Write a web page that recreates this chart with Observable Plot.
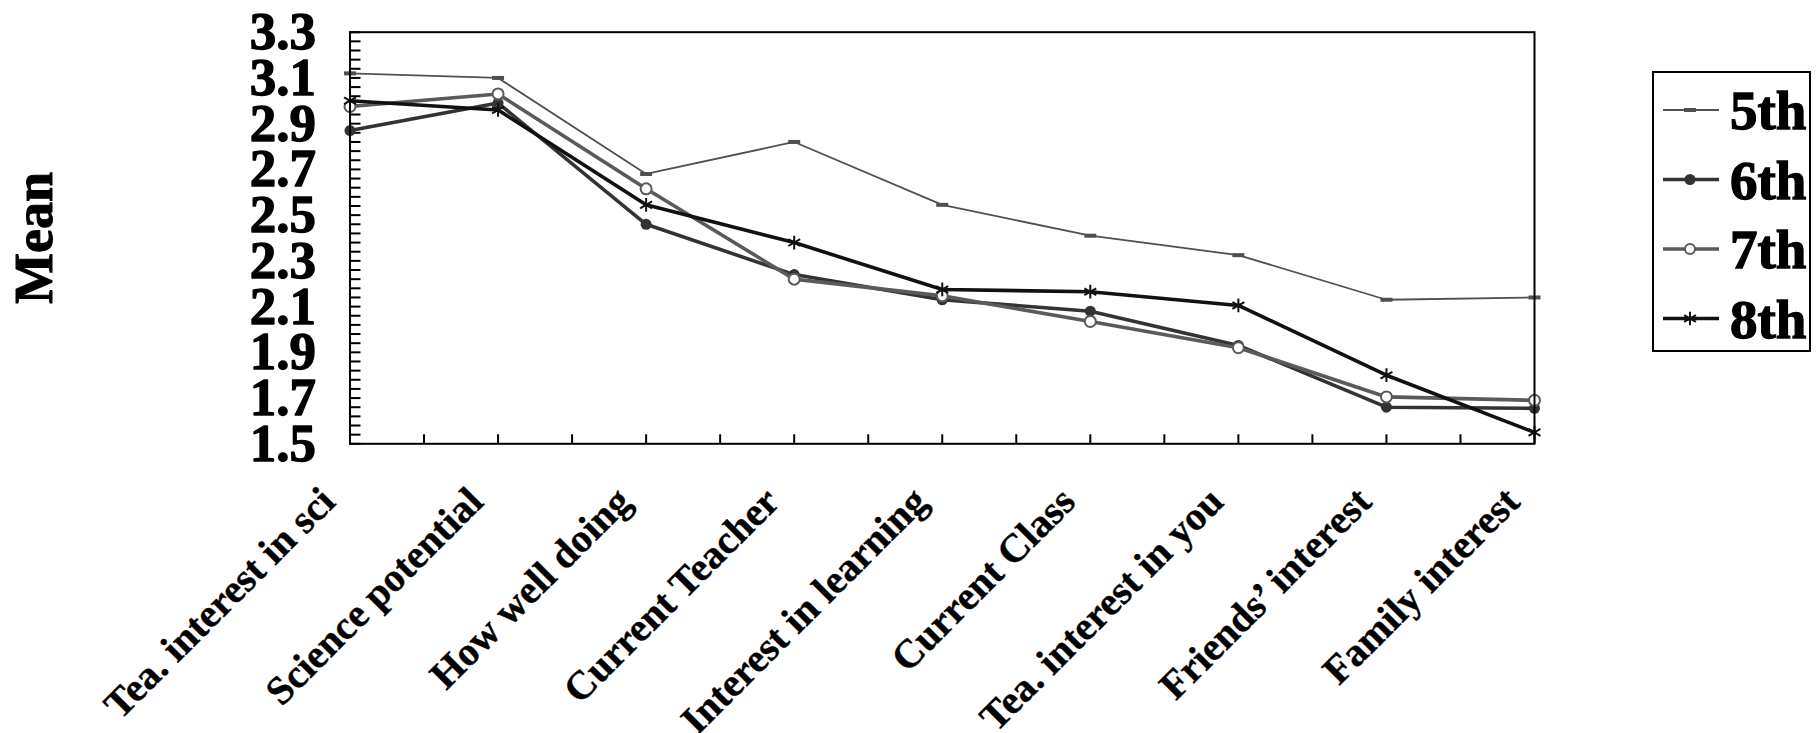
<!DOCTYPE html>
<html><head><meta charset="utf-8">
<script src="https://cdn.jsdelivr.net/npm/d3@7"></script>
<script src="https://cdn.jsdelivr.net/npm/@observablehq/plot@0.6"></script>
<style>
html,body{margin:0;padding:0;background:#fff;overflow:hidden}
#wrap{position:relative;width:1817px;height:733px}
#legend{position:absolute;left:1652px;top:71px}
</style></head><body><div id="wrap"></div>
<script>
// ---- data ----
const categories = ["Tea. interest in sci","Science potential","How well doing","Current Teacher","Interest in learning","Current Class","Tea. interest in you","Friends’ interest","Family interest"];
const series = ["5th","6th","7th","8th"];
const grade5 = [3.12, 3.10, 2.68, 2.82, 2.545, 2.41, 2.325, 2.13, 2.14];
const grade6 = [2.87, 2.99, 2.46, 2.24, 2.13, 2.08, 1.93, 1.66, 1.655];
const grade7 = [2.975, 3.03, 2.615, 2.22, 2.147, 2.035, 1.92, 1.705, 1.69];
const grade8 = [3.0, 2.96, 2.545, 2.38, 2.175, 2.165, 2.105, 1.80, 1.55];
const yTicks = [1.5, 1.7, 1.9, 2.1, 2.3, 2.5, 2.7, 2.9, 3.1, 3.3];
const yTickLabels = ["1.5","1.7","1.9","2.1","2.3","2.5","2.7","2.9","3.1","3.3"];
const yLabel = "Mean";

// ---- layout / style ----
const W = 1817, H = 733;
const fL = 349.5, fR = 1534, fT = 31.7, fB = 443.3;
const FONT = "'Liberation Serif','Times New Roman',serif";
const styles = {
  "5th": {stroke: "#505050", width: 1.8, marker: "dash"},
  "6th": {stroke: "#333333", width: 3.6, marker: "dot"},
  "7th": {stroke: "#5a5a5a", width: 3.6, marker: "ring"},
  "8th": {stroke: "#111111", width: 3.6, marker: "asterisk"}
};
const dashSymbol = {draw(ctx, size) { ctx.rect(-6, -2, 12, 4); }};

const values = [grade5, grade6, grade7, grade8];
const rows = series.flatMap((s, k) => values[k].map((v, i) => ({grade: s, idx: i, value: v})));
const yMinor = d3.range(0, 46).map(i => +(1.5 + i * 0.04).toFixed(2));
const xTickPos = d3.range(0, 17).map(i => i / 2);

const marks = [
  Plot.tickY(yMinor, {y: d => d, stroke: "#000", strokeWidth: 2, insetRight: (fR - fL) - 11}),
  Plot.tickX(xTickPos, {x: d => d, stroke: "#000", strokeWidth: 2, insetTop: (fB - fT) - 9}),
  Plot.text(yTicks, {y: d => d, text: (d, i) => yTickLabels[i], frameAnchor: "left", textAnchor: "end",
    lineAnchor: "middle", dx: -34, fontSize: 53, fontWeight: "bold", fill: "#000", stroke: "#000", strokeWidth: 1.3}),
  Plot.text(categories, {x: (d, i) => i, text: d => d, frameAnchor: "bottom", rotate: -45,
    textAnchor: "end", lineAnchor: "middle", dx: -22, dy: 51, fontSize: 40, fontWeight: "bold", fill: "#000",
    stroke: "#000", strokeWidth: 0.4}),
  Plot.text([yLabel], {text: d => d, frameAnchor: "left", textAnchor: "middle", lineAnchor: "middle",
    dx: -(fL - 34), rotate: -90, fontSize: 54, fontWeight: "bold", fill: "#000", stroke: "#000", strokeWidth: 1})
];
for (const s of series) {
  const st = styles[s];
  const data = rows.filter(r => r.grade === s);
  marks.push(Plot.line(data, {x: "idx", y: "value", stroke: st.stroke, strokeWidth: st.width}));
  if (st.marker === "dash") marks.push(Plot.dot(data, {x: "idx", y: "value", symbol: dashSymbol, r: 5, fill: st.stroke, stroke: "none"}));
  if (st.marker === "dot") marks.push(Plot.dot(data, {x: "idx", y: "value", r: 5.5, fill: st.stroke, stroke: "none"}));
  if (st.marker === "ring") marks.push(Plot.dot(data, {x: "idx", y: "value", r: 5.5, fill: "#fff", stroke: st.stroke, strokeWidth: 2}));
  if (st.marker === "asterisk") marks.push(Plot.dot(data, {x: "idx", y: "value", symbol: "asterisk", r: 6.5, stroke: st.stroke, strokeWidth: 2}));
}
marks.push(Plot.frame({stroke: "#000", strokeWidth: 2}));

const chart = Plot.plot({
  width: W, height: H,
  marginLeft: fL, marginRight: W - fR, marginTop: fT, marginBottom: H - fB,
  x: {type: "linear", domain: [0, categories.length - 1], axis: null},
  y: {domain: [1.5, 3.3], axis: null},
  style: {fontFamily: FONT, background: "#fff", color: "#000", overflow: "visible"},
  marks
});
document.getElementById("wrap").appendChild(chart);

// ---- legend ----
const lw = 159, lh = 281;
const leg = d3.create("svg").attr("id", "legend").attr("width", lw).attr("height", lh)
  .style("font-family", FONT);
leg.append("rect").attr("x", 1).attr("y", 1).attr("width", lw - 2).attr("height", lh - 2)
  .attr("fill", "#fff").attr("stroke", "#000").attr("stroke-width", 2);
series.forEach((s, k) => {
  const st = styles[s];
  const y = 39 + k * 69.5;
  const g = leg.append("g").attr("transform", `translate(0,${y})`);
  g.append("line").attr("x1", 11).attr("x2", 67).attr("y1", 0).attr("y2", 0)
    .attr("stroke", st.stroke).attr("stroke-width", st.width);
  if (st.marker === "dash") g.append("rect").attr("x", 32).attr("y", -2).attr("width", 12).attr("height", 4).attr("fill", st.stroke);
  if (st.marker === "dot") g.append("circle").attr("cx", 38).attr("r", 5.5).attr("fill", st.stroke);
  if (st.marker === "ring") g.append("circle").attr("cx", 38).attr("r", 5).attr("fill", "#fff").attr("stroke", st.stroke).attr("stroke-width", 2);
  if (st.marker === "asterisk") g.append("path").attr("transform", "translate(38,0)")
    .attr("d", d3.symbol(d3.symbolAsterisk, Math.PI * 6.5 * 6.5)()).attr("fill", "none").attr("stroke", st.stroke).attr("stroke-width", 2);
  g.append("text").attr("x", 78).attr("y", 19).attr("font-size", 55).attr("font-weight", "bold")
    .attr("fill", "#000").attr("stroke", "#000").attr("stroke-width", 1.3).text(s);
});
document.getElementById("wrap").appendChild(leg.node());
</script>
</body></html>
